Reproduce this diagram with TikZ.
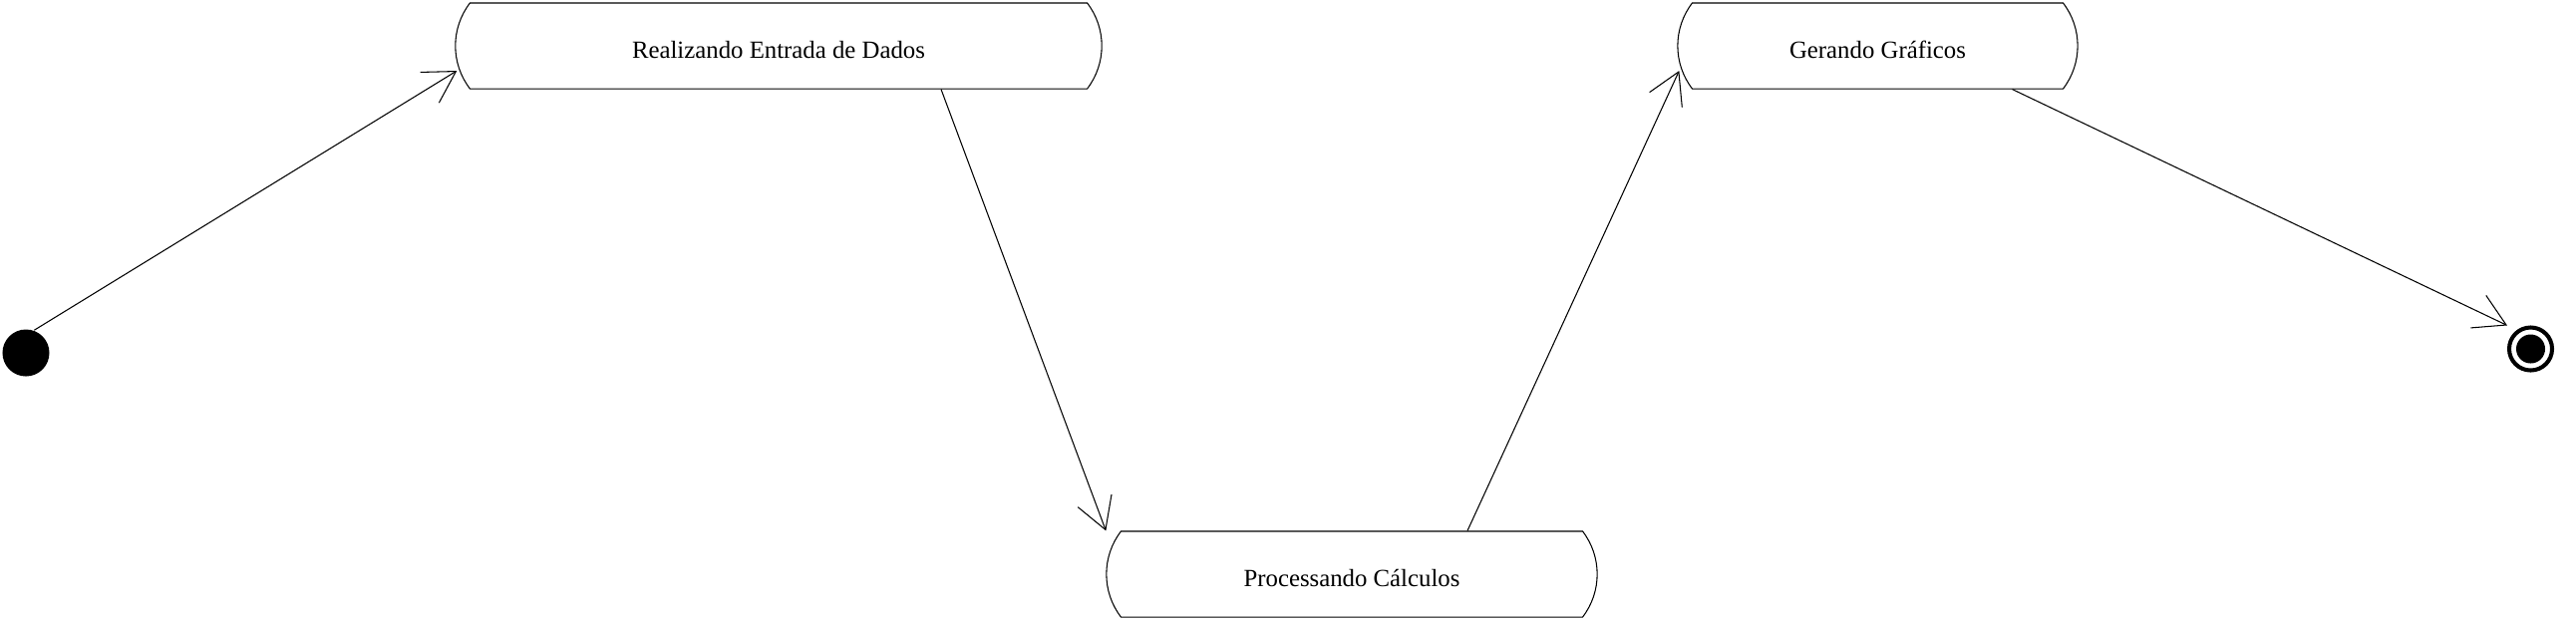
\documentclass[tikz,border=0pt]{standalone}
\usepackage{fontspec}
\setmainfont{Liberation Serif}
\usetikzlibrary{arrows.meta,positioning,calc,shapes.misc}
\tikzset{estado/.style={draw,rounded rectangle,rounded rectangle arc length=75,minimum height=0.86cm,inner sep=0pt,text height=0.24cm,text depth=0cm,line width=.3pt},trans/.style={-{Straight Barb[length=3.1mm,width=3.6mm]},draw=black,line width=.3pt}}

\begin{document}
\begin{tikzpicture}[x=0.01cm,y=-0.01cm,font=\fontsize{7.05}{8.4}\selectfont,
inicial/.style={circle,fill=black,minimum size=0.47cm,inner sep=0pt},
final/.style={circle,draw,line width=1.15pt,fill=white,minimum size=0.43cm,inner sep=0pt,path picture={\fill[black] (path picture bounding box.center) circle (0.145cm);}}]
\useasboundingbox (0,0) rectangle (2584,623);
\node[inicial] (ini) at (26,354) {};
\node[estado,minimum width=6.48cm] (ent) at (781,46) {Realizando Entrada de Dados};
\node[estado,minimum width=4.92cm] (proc) at (1356,576) {Processando Cálculos};
\node[estado,minimum width=4.01cm] (graf) at (1883.5,46) {Gerando Gráficos};
\node[final] (fim) at (2538.5,350) {};
\draw[trans] (ini.70)--($(ent.west)+(2,25)$);
\draw[trans] ($(ent.south)+(163,0)$)--(proc.west |- proc.north);
\draw[trans] ($(proc.north)+(116,0)$)--($(graf.west)+(2,25)$);
\draw[trans] ($(graf.south)+(135,0)$)--(fim.west |- fim.north);
\end{tikzpicture}
\end{document}
